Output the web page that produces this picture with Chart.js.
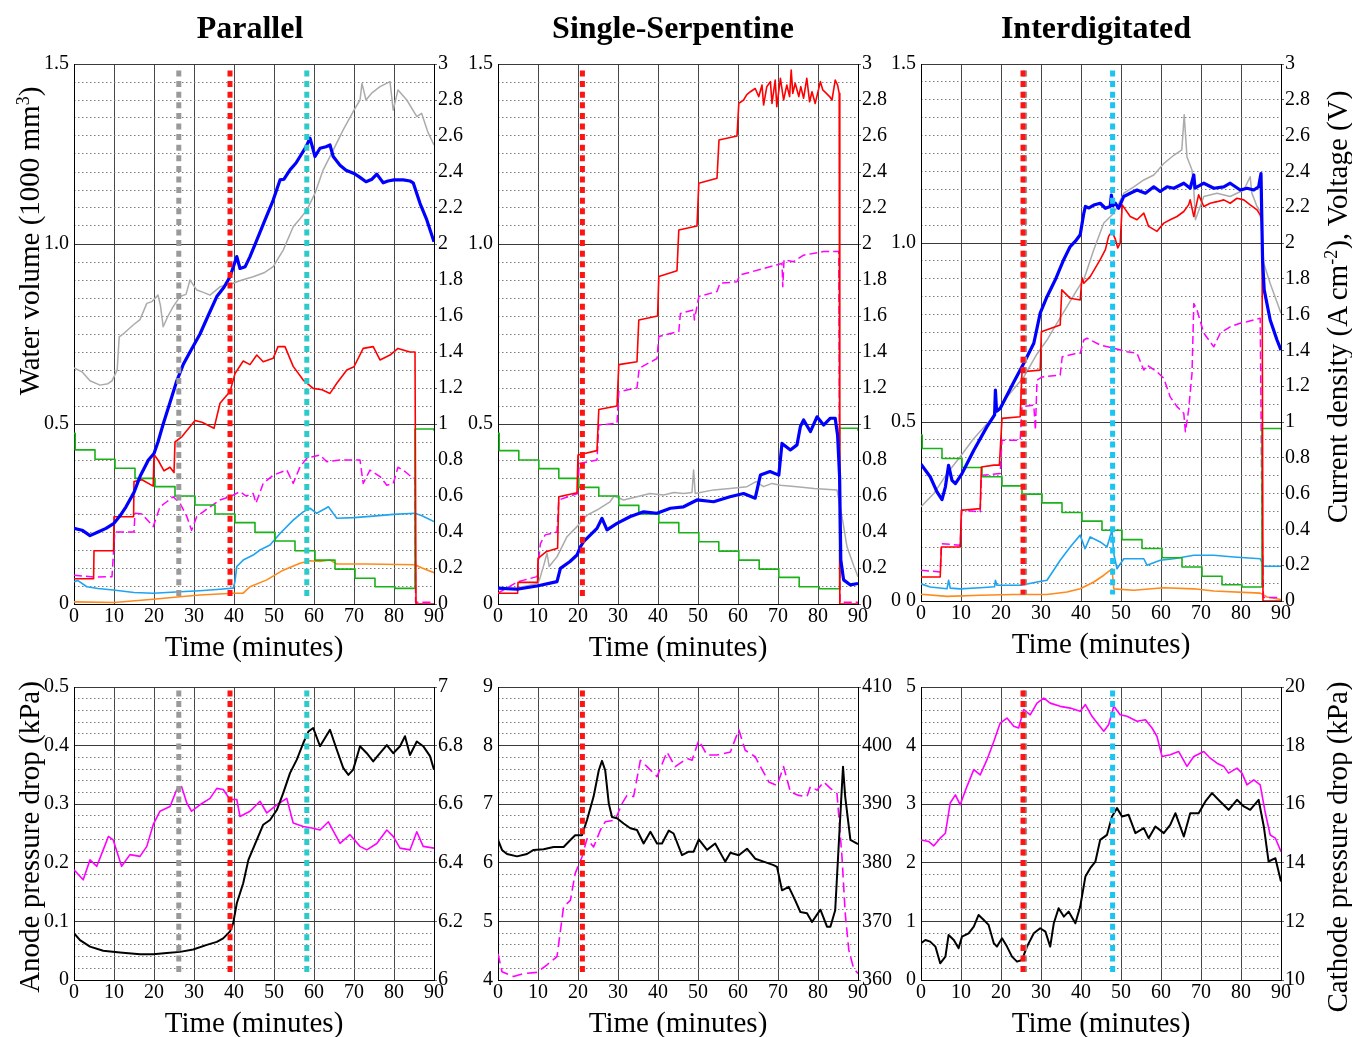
<!DOCTYPE html>
<html>
<head>
<meta charset="utf-8">
<script src="https://cdn.jsdelivr.net/npm/chart.js@4.4.1/dist/chart.umd.min.js"></script>
<style>
html, body { margin: 0; padding: 0; overflow: hidden; background: #fff; width: 1352px; height: 1037px; }
canvas { position: absolute; }
.t { position: absolute; font-family: 'Liberation Serif', 'Times New Roman', serif; color: #000; white-space: nowrap; }
.head { font-weight: bold; font-size: 32px; line-height: 32px; transform: translateX(-50%); }
.ytitle { font-size: 29px; line-height: 29px; transform: translate(-50%, -50%) rotate(-90deg); }
.ytitle sup { font-size: 0.62em; vertical-align: 0.55em; line-height: 0; }
</style>
</head>
<body>
<script>
// ---------- time series, [minutes, value] ----------
// Water-volume type traces use the left axis (1000 mm^3); current density / voltage use the right axis.

const parallelBlue = [[0,0.21],[2,0.205],[4,0.19],[6,0.2],[8,0.21],[10,0.224],[11.5,0.245],[13,0.27],[15,0.31],[16.5,0.354],[18.6,0.4],[20,0.418],[21,0.45],[22.3,0.5],[24,0.56],[25.7,0.62],[27.3,0.665],[29,0.7],[31.5,0.75],[33.5,0.8],[35.7,0.854],[37.5,0.88],[39,0.909],[40.7,0.965],[41.5,0.932],[42.8,0.937],[44,0.965],[45.7,1.011],[47.5,1.06],[49.8,1.122],[51.5,1.178],[52.5,1.18],[54,1.206],[55.5,1.225],[56.5,1.243],[58,1.27],[59,1.294],[60.25,1.243],[61.5,1.266],[63,1.27],[64,1.275],[64.8,1.243],[66.5,1.219],[68,1.205],[70,1.196],[71.5,1.185],[73,1.173],[74.5,1.18],[75.7,1.194],[77.3,1.17],[78.5,1.175],[80,1.178],[82.3,1.178],[84,1.175],[84.8,1.17],[86.5,1.113],[88.2,1.067],[90,1.006]];
const parallelGray = [[0,0.656],[2,0.645],[4,0.62],[6.5,0.608],[8.5,0.612],[9.5,0.62],[10.8,0.65],[11.3,0.742],[12.5,0.752],[14.8,0.775],[16.5,0.79],[18.2,0.835],[19.5,0.84],[21,0.858],[21.6,0.83],[22.3,0.77],[23.5,0.8],[24.8,0.826],[26.5,0.854],[28,0.86],[29,0.9],[30.7,0.872],[32.5,0.865],[34,0.858],[36.5,0.881],[39.8,0.891],[42,0.9],[44.8,0.909],[47.5,0.92],[49.8,0.937],[52.3,0.983],[54.8,1.048],[56.5,1.07],[58.2,1.094],[60.25,1.141],[62.3,1.206],[64.8,1.261],[67.3,1.317],[70,1.372],[71.5,1.4],[72,1.446],[73,1.4],[74.5,1.42],[76.5,1.437],[79,1.451],[79.8,1.372],[81,1.428],[83.2,1.4],[85.7,1.354],[86.9,1.363],[88.5,1.31],[90,1.275]];
const parallelCurrent = [[0,0.14],[4.9,0.14],[5,0.296],[9.9,0.296],[10,0.485],[14.9,0.485],[15,0.68],[17,0.69],[19.8,0.655],[20,0.831],[21,0.8],[22.5,0.74],[24,0.76],[25,0.73],[25.25,0.9],[27,0.93],[30.25,1.02],[32,1.01],[35,0.976],[36.5,1.115],[39,1.18],[40.25,1.28],[42.3,1.35],[44,1.33],[45.7,1.383],[47.3,1.346],[49.8,1.365],[51,1.43],[52.75,1.43],[54.8,1.32],[57.3,1.244],[59.8,1.198],[62,1.19],[64,1.17],[65.7,1.226],[68.2,1.3],[70,1.318],[72.3,1.42],[74.8,1.43],[76.5,1.356],[79,1.383],[81,1.42],[84,1.4],[85.25,1.4],[85.5,0],[90,0]];
const parallelVoltage = [[0,0.948],[0.3,0.856],[5.25,0.804],[10.25,0.754],[15.25,0.698],[20.25,0.652],[25.25,0.6],[30.25,0.55],[35.25,0.5],[40.25,0.452],[45.25,0.398],[50.25,0.35],[55.25,0.296],[60.25,0.244],[65.25,0.194],[70.25,0.143],[75.25,0.096],[80.25,0.087],[85.25,0.972],[90,0.962]];
const parallelMagenta = [[0,0.08],[5,0.075],[9.5,0.076],[9.8,0.13],[10.2,0.2],[12,0.2],[15,0.2],[15.25,0.252],[17,0.25],[19.8,0.215],[21.5,0.27],[23.2,0.284],[24.8,0.298],[26.5,0.28],[28.2,0.243],[29.4,0.205],[30.7,0.243],[32.3,0.256],[34,0.27],[36.5,0.289],[39,0.298],[41.5,0.312],[43,0.3],[44.8,0.307],[45.5,0.28],[47.3,0.335],[49.8,0.358],[53.2,0.372],[54.8,0.335],[56.5,0.381],[58.2,0.405],[61.5,0.414],[63.2,0.395],[66.5,0.4],[71.5,0.4],[72.3,0.335],[74,0.372],[76.5,0.354],[78.2,0.33],[79.8,0.335],[81,0.38],[82.75,0.368],[84.8,0.349],[85.2,0.349],[85.4,0.005],[90,0.005]];
const parallelCyan = [[0,0.062],[1,0.065],[3.2,0.048],[6,0.043],[9.8,0.039],[15,0.032],[19.8,0.03],[26.5,0.034],[31.5,0.037],[36.5,0.041],[39.8,0.044],[40.2,0.06],[40.7,0.104],[42.3,0.122],[44.8,0.136],[46.5,0.15],[49,0.164],[51.5,0.196],[54.8,0.233],[57.3,0.256],[59,0.266],[60.7,0.252],[63.6,0.27],[65.7,0.238],[70,0.24],[74.8,0.244],[79.8,0.249],[85.25,0.252],[87,0.245],[90,0.229]];
const parallelOrange = [[0,0.006],[10,0.004],[19.8,0.013],[26.5,0.02],[31.5,0.025],[39.8,0.03],[42.3,0.03],[44,0.048],[48.2,0.067],[52.3,0.094],[56.5,0.113],[59,0.12],[61.5,0.118],[64,0.122],[65.7,0.111],[73,0.111],[85.25,0.109],[87,0.1],[90,0.087]];

const singleBlue = [[0,0.044],[4.75,0.041],[9.75,0.05],[14.75,0.062],[15.6,0.099],[18,0.118],[19.75,0.136],[20.6,0.159],[21.4,0.173],[24.75,0.21],[26,0.238],[27.25,0.206],[29.75,0.224],[33.1,0.243],[36.4,0.256],[39.75,0.252],[43.1,0.266],[46.4,0.27],[49.75,0.289],[53.9,0.284],[58,0.298],[61.4,0.307],[64.3,0.294],[65.6,0.358],[68,0.368],[70.2,0.358],[71,0.446],[73.1,0.428],[74.75,0.442],[75.6,0.493],[76.4,0.511],[78.1,0.479],[79.75,0.52],[81.4,0.497],[83.1,0.516],[84.3,0.516],[84.9,0.469],[85.4,0.354],[85.7,0.122],[86.4,0.067],[88.1,0.053],[90,0.057]];
const singleGray = [[0,0.04],[5,0.045],[10,0.057],[10.6,0.076],[11.5,0.11],[12.25,0.141],[12.8,0.104],[14.75,0.131],[17.25,0.187],[19.75,0.215],[22.25,0.247],[24.75,0.261],[26,0.27],[28,0.284],[29,0.3],[31.4,0.289],[34.75,0.298],[38,0.307],[41.4,0.303],[44,0.31],[46.4,0.307],[48.5,0.31],[48.9,0.372],[49.3,0.307],[53.9,0.317],[58,0.321],[62.25,0.326],[64.5,0.34],[66.4,0.326],[68.5,0.335],[70.6,0.33],[74.75,0.326],[79,0.321],[84.75,0.317],[86,0.243],[87.25,0.159],[89,0.104],[90,0.076]];
const singleCurrent = [[0,0.06],[4.9,0.06],[5,0.12],[9.9,0.12],[10,0.254],[12,0.29],[14.9,0.31],[15.2,0.596],[19.75,0.618],[20,0.828],[24.75,0.852],[25.2,1.081],[29.75,1.1],[30.2,1.33],[34.75,1.346],[35.2,1.578],[39.9,1.6],[40.2,1.82],[44.75,1.852],[45.2,2.078],[49.75,2.1],[50.2,2.337],[54.75,2.365],[55.25,2.578],[59.75,2.6],[60.2,2.781],[61.4,2.8],[62.2,2.83],[63.1,2.846],[64.3,2.864],[65.2,2.819],[66,2.883],[66.4,2.772],[67.2,2.874],[68.1,2.902],[68.5,2.781],[69.3,2.911],[69.7,2.763],[70.6,2.92],[71.4,2.8],[72.2,2.883],[72.9,2.819],[73.3,2.967],[73.7,2.837],[74.3,2.893],[75.2,2.819],[75.7,2.874],[76.4,2.81],[77.2,2.92],[77.9,2.79],[78.5,2.846],[79.3,2.781],[79.9,2.837],[80.6,2.902],[81.2,2.856],[82.1,2.837],[82.9,2.819],[83.5,2.8],[84.3,2.911],[84.9,2.883],[85.3,2.837],[85.45,0],[90,0]];
const singleVoltage = [[0,0.948],[0.3,0.852],[5.2,0.8],[10.2,0.752],[15.2,0.698],[20.2,0.648],[25.2,0.6],[30.2,0.548],[35.2,0.5],[40.2,0.452],[45.2,0.396],[50.2,0.346],[55.2,0.294],[60.2,0.244],[65.3,0.194],[70.2,0.148],[75.3,0.096],[80.3,0.085],[85.4,0.976],[90,0.963]];
const singleMagenta = [[0,0.03],[5,0.062],[9.75,0.076],[10.6,0.168],[11.8,0.192],[14.75,0.2],[15.2,0.289],[19.9,0.307],[20.3,0.39],[24.75,0.4],[25.2,0.497],[29.75,0.502],[30.2,0.59],[34.75,0.6],[35.3,0.655],[39.75,0.682],[40.2,0.743],[45.2,0.757],[45.6,0.807],[48.9,0.817],[49.1,0.789],[50.2,0.854],[54.75,0.868],[55.5,0.891],[59.75,0.895],[60.5,0.914],[66.4,0.932],[71,0.946],[71.2,0.881],[71.5,0.956],[73.9,0.951],[76.4,0.969],[81.4,0.979],[85.2,0.979],[85.5,0.005],[90,0.005]];

const interBlue = [[0,0.382],[2.3,0.347],[4,0.305],[5.25,0.283],[6.1,0.319],[6.9,0.379],[7.75,0.337],[8.6,0.328],[10.25,0.356],[13.2,0.421],[16.5,0.487],[18.4,0.52],[18.6,0.589],[18.9,0.53],[19.8,0.538],[23.2,0.612],[25.7,0.664],[28.2,0.72],[29.8,0.804],[31.5,0.85],[33.6,0.898],[35.7,0.954],[37.3,0.99],[38.6,1.005],[39.8,1.023],[40.7,1.083],[41.1,1.102],[42,1.098],[43.2,1.106],[44.8,1.111],[46.1,1.097],[47.3,1.102],[47.6,1.134],[48,1.104],[48.6,1.111],[49.4,1.097],[50.7,1.13],[52.3,1.139],[54,1.148],[56.1,1.139],[58.2,1.157],[59.8,1.144],[61.5,1.157],[63.2,1.153],[65.7,1.167],[67.3,1.153],[68.2,1.19],[68.5,1.153],[70.7,1.167],[73.2,1.153],[75.7,1.157],[77.3,1.167],[79.8,1.148],[81.5,1.153],[83.2,1.148],[84.4,1.157],[85,1.194],[85.4,0.95],[85.8,0.869],[87.3,0.785],[89,0.729],[90,0.701]];
const interGray = [[0,0.263],[3.2,0.3],[6.5,0.356],[9.8,0.403],[13.2,0.454],[17.3,0.505],[21.5,0.57],[25.7,0.626],[29,0.69],[31.5,0.729],[34,0.776],[36.5,0.822],[39,0.869],[40.7,0.898],[43.2,0.981],[45.7,1.056],[48.2,1.083],[50.7,1.139],[53.2,1.157],[55.7,1.176],[58.2,1.19],[60.7,1.222],[63.2,1.245],[65.2,1.26],[65.8,1.358],[66.5,1.24],[67.75,1.204],[68.2,1.15],[68.6,1.065],[70.7,1.13],[74,1.139],[77.3,1.13],[80.7,1.148],[82.3,1.185],[82.7,1.14],[84,1.102],[84.8,1.088],[85.7,0.943],[87.3,0.887],[90,0.804]];
const interCurrent = [[0,0.134],[4.8,0.134],[5.1,0.302],[9.8,0.302],[10.1,0.507],[14.8,0.516],[15.1,0.749],[18.2,0.759],[19.6,0.759],[20.25,1.02],[24.8,1.029],[25.25,1.281],[29.8,1.29],[30.1,1.504],[34.8,1.542],[35.2,1.738],[37.3,1.691],[39.8,1.682],[40.25,1.806],[40.7,1.775],[42.3,1.812],[44.8,1.907],[46.1,1.963],[46.9,2.037],[47.75,2.065],[48.6,2.02],[49.2,1.972],[49.8,2.0],[50.3,2.213],[52.3,2.148],[54,2.13],[55.7,2.167],[56.9,2.093],[59,2.065],[60.7,2.111],[62.3,2.13],[64,2.148],[65.7,2.176],[66.9,2.213],[67.3,2.241],[68.2,2.148],[69.4,2.269],[70.7,2.204],[72.3,2.222],[74,2.231],[75.7,2.241],[77.3,2.222],[79,2.25],[80.7,2.241],[82.3,2.213],[84,2.185],[84.8,2.157],[85.25,2.12],[85.5,0],[90,0]];
const interVoltage = [[0,0.927],[0.3,0.852],[5.25,0.796],[10.25,0.746],[15.25,0.694],[20.25,0.643],[25.25,0.597],[30.25,0.548],[35.25,0.494],[40.25,0.446],[45.25,0.395],[50.25,0.343],[55.25,0.293],[60.25,0.242],[65.25,0.19],[70.25,0.138],[75.25,0.091],[80.25,0.078],[85.25,0.964],[90,0.958]];
const interMagenta = [[0,0.086],[4.8,0.081],[5.1,0.16],[9.8,0.156],[10.2,0.254],[14.8,0.249],[15.1,0.351],[19.8,0.356],[20.25,0.449],[24.8,0.449],[25.25,0.543],[28.2,0.547],[28.6,0.477],[29,0.617],[30.25,0.626],[34.8,0.631],[35.3,0.682],[38.2,0.69],[39.8,0.692],[40.7,0.729],[41.5,0.734],[44.8,0.715],[48.2,0.706],[51.5,0.696],[54,0.692],[55.7,0.645],[56.5,0.659],[59,0.64],[60.7,0.622],[62.3,0.57],[64,0.543],[65.7,0.524],[66.1,0.473],[66.9,0.533],[67.75,0.636],[68.2,0.831],[69,0.813],[70.7,0.748],[73.2,0.71],[74.8,0.748],[77.3,0.766],[79.8,0.776],[81.5,0.78],[84.8,0.79],[85.25,0.22],[85.6,0.01],[90,0.01]];
const interCyan = [[0,0.048],[2.3,0.039],[6.5,0.034],[6.9,0.058],[7.3,0.036],[9.8,0.034],[14.8,0.037],[18.4,0.04],[18.6,0.058],[19,0.044],[25,0.044],[29,0.053],[31.5,0.058],[34.8,0.114],[37.3,0.151],[39.8,0.184],[41,0.146],[42.3,0.179],[44.8,0.165],[46.5,0.151],[47.75,0.198],[48.2,0.132],[49,0.09],[50.7,0.118],[53.2,0.118],[55.7,0.118],[56.5,0.1],[59.8,0.114],[63.2,0.118],[68.2,0.128],[73.2,0.128],[78.2,0.123],[84.8,0.118],[85.7,0.097],[90,0.097]];
const interOrange = [[0,0.019],[6.5,0.013],[14.8,0.016],[23.2,0.018],[31.5,0.018],[36.5,0.025],[39.8,0.034],[43.2,0.053],[45.7,0.072],[47.75,0.09],[48.2,0.034],[53.2,0.03],[60.7,0.037],[68.2,0.034],[73.2,0.028],[84.8,0.022],[86.5,0.011],[90,0.004]];

// pressure drops: anode on the left axis, cathode on the right axis (kPa)
const parallelAnode = [[0,0.08],[1.5,0.068],[4,0.057],[7.3,0.05],[11.5,0.047],[16.5,0.044],[19.8,0.044],[23.2,0.046],[26.5,0.048],[29.8,0.052],[33.2,0.06],[35.7,0.065],[37.3,0.071],[39,0.083],[39.8,0.097],[40.7,0.131],[42.3,0.165],[43.6,0.205],[45.7,0.239],[47.3,0.265],[49,0.273],[50.7,0.29],[52.3,0.319],[54,0.353],[55.7,0.376],[57.3,0.404],[58.6,0.424],[59.8,0.43],[61.5,0.399],[62.75,0.413],[64,0.427],[65.7,0.393],[67.3,0.362],[68.6,0.35],[69.8,0.359],[71.5,0.399],[73.2,0.387],[74.8,0.373],[76.5,0.387],[78.2,0.401],[79.8,0.387],[81.5,0.399],[82.75,0.416],[84,0.384],[85.7,0.407],[87.3,0.399],[89,0.382],[90,0.359]];
const parallelCathode = [[0,6.376],[2.3,6.342],[4,6.41],[5.7,6.388],[7.3,6.444],[8.6,6.49],[9.8,6.478],[11.9,6.388],[14,6.428],[16.5,6.422],[18.2,6.456],[19.8,6.53],[21.5,6.576],[24,6.592],[25.7,6.65],[26.9,6.66],[28.2,6.604],[29.4,6.576],[31.5,6.598],[34,6.62],[35.7,6.654],[37.3,6.65],[39,6.616],[40.7,6.616],[41.5,6.558],[44,6.576],[46.5,6.61],[48.2,6.57],[50.7,6.598],[53.2,6.62],[54.8,6.536],[57.3,6.524],[59.8,6.518],[61.5,6.512],[63.6,6.54],[66.5,6.466],[69,6.496],[71.5,6.456],[73.2,6.444],[75.7,6.466],[78.2,6.512],[79.8,6.49],[81.5,6.45],[84,6.444],[85.7,6.506],[87.3,6.456],[90,6.45]];
const singleAnode = [[0,6.39],[1,6.22],[2.25,6.15],[4.75,6.11],[7.25,6.15],[8.9,6.22],[11.4,6.23],[13.9,6.27],[16.4,6.27],[18.1,6.39],[19.3,6.47],[21,6.47],[22.25,6.73],[23.9,7.13],[25.2,7.58],[26,7.74],[26.8,7.58],[27.7,7.01],[28.5,6.78],[29.75,6.76],[31.4,6.67],[33.1,6.59],[34.75,6.56],[36.4,6.33],[38.1,6.53],[39.75,6.33],[41,6.33],[42.7,6.55],[43.9,6.5],[46,6.13],[47.7,6.19],[48.9,6.19],[50.2,6.4],[52.25,6.22],[54.3,6.33],[56.8,6.02],[58.1,6.17],[60.2,6.13],[62.25,6.24],[64.3,6.07],[66.4,6.02],[68.9,5.96],[69.75,5.93],[71,5.53],[72.7,5.59],[74.3,5.36],[75.6,5.16],[77.25,5.14],[78.5,4.99],[80.6,5.2],[82.25,4.91],[83.1,4.91],[84.3,5.19],[85.2,6.33],[86.25,7.64],[86.8,7.13],[88.1,6.39],[90,6.32]];
const singleCathode = [[0,364.5],[1,361.4],[3.9,360.6],[6.4,361.1],[9.75,361.3],[12.25,362.6],[14.75,364],[16.4,372.5],[18.1,373.6],[19.3,378.2],[21,381],[22.25,384.1],[23.9,382.7],[25.6,385.6],[26.8,387],[29.3,387.3],[31,390.1],[32.25,391.5],[33.9,391.3],[35.6,397.5],[37.25,396.4],[39.75,394.7],[42.25,398.9],[44.3,396.4],[47.25,397.8],[48.5,397.5],[50.2,400.9],[52.25,398.4],[54.75,398.4],[58.1,398.9],[60.2,402.7],[61.8,399.2],[64.3,398.1],[65.6,396.4],[67.7,393.8],[69.75,393.2],[71.4,396.4],[73.1,392.1],[75.2,391.5],[77.25,391.3],[78.1,393],[79.75,392.4],[81.4,393.8],[83.1,392.7],[84.75,391.8],[86,381],[86.8,371.4],[87.7,365.1],[88.9,362],[90,361.1]];
const interAnode = [[0,0.626],[1.1,0.683],[2.3,0.655],[3.6,0.57],[4.8,0.285],[6.1,0.399],[6.9,0.769],[8.2,0.683],[9.4,0.541],[10.25,0.74],[11.9,0.797],[13.2,0.911],[14.4,1.11],[15.7,1.025],[16.9,0.94],[18.2,0.626],[19,0.57],[20.25,0.712],[21.5,0.57],[22.75,0.399],[24,0.313],[25.25,0.342],[26.5,0.57],[28.2,0.797],[29.8,0.883],[31.1,0.826],[32.3,0.57],[33.2,0.968],[34.4,1.224],[35.7,1.082],[36.9,1.167],[38.6,0.968],[39.8,1.253],[41.1,1.765],[42.3,1.908],[43.6,2.022],[44.8,2.392],[46.5,2.477],[47.75,2.79],[49,2.933],[50.25,2.79],[51.9,2.819],[53.6,2.506],[55.7,2.591],[56.9,2.42],[58.6,2.62],[60.7,2.506],[62.3,2.648],[63.6,2.847],[65.7,2.449],[67.3,2.847],[69.4,2.847],[71.1,3.047],[72.75,3.189],[74.8,3.047],[76.9,2.904],[79,3.075],[80.7,2.961],[82.3,2.904],[84.4,3.075],[85.7,2.62],[86.9,2.022],[88.6,2.079],[90,1.68]];
const interCathode = [[0,14.78],[1.9,14.73],[3.2,14.58],[4.8,14.84],[6.1,15.01],[7.3,16.04],[8.6,16.32],[9.8,15.98],[11.5,16.61],[13.2,17.18],[14.8,17.0],[16.5,17.52],[18.2,18.14],[19.8,18.77],[21.5,18.94],[23.2,18.66],[24.4,18.6],[25.7,19.23],[27.3,19.05],[29,19.45],[30.7,19.62],[32.3,19.45],[34.8,19.34],[37.3,19.28],[39.8,19.17],[41.1,19.4],[42.75,19.0],[44.4,18.71],[45.7,18.49],[46.9,18.71],[48.2,19.34],[49.8,19.05],[51.5,19.0],[54,18.83],[56.1,18.88],[57.75,18.6],[59,18.31],[60.25,17.63],[62.3,17.69],[64.4,17.8],[66.5,17.29],[68.2,17.63],[70.7,17.8],[72.3,17.57],[74,17.4],[75.7,17.29],[76.9,17.06],[79,17.23],[80.25,17.06],[81.5,16.66],[83.2,16.83],[84.8,16.66],[86.1,15.69],[87.3,14.95],[88.6,14.84],[90,14.38]];

// event times (minutes) marked by thick dotted verticals
const parallelEvents = [26.2, 39.0, 58.2];
const singleEvents = [21.1];
const interEvents = [25.5, 25.9, 47.9];

// axis tick labels
const timeTicks = [0, 10, 20, 30, 40, 50, 60, 70, 80, 90];
const waterTicks = [0, 0.5, 1.0, 1.5];
const currentTicks = [0, 0.2, 0.4, 0.6, 0.8, 1, 1.2, 1.4, 1.6, 1.8, 2, 2.2, 2.4, 2.6, 2.8, 3];

// ---------- drawing ----------
const FONT = "'Liberation Serif', 'Times New Roman', serif";
const C = {
  blue: '#0000ff', gray: '#ababab', red: '#ff0000', green: '#19b219',
  magenta: '#ff00ff', cyan: '#1ea4f0', orange: '#ff8a1a', black: '#000000',
  evGray: '#9a9a9a', evRed: '#ff1414', evTeal: '#2ecaca', evSky: '#1cc4f2'
};
const trimNum = v => String(+v.toFixed(3));
const near = (v, step) => Math.abs(v / step - Math.round(v / step)) < 1e-6;

function makePanel(p) {
  const LW = 60, RW = 50, XH = 66;
  const w = LW + (p.r - p.l) + RW;
  const h = p.padTop + (p.b - p.t) + XH;
  const cv = document.createElement('canvas');
  cv.width = w; cv.height = h;
  cv.style.left = (p.l - LW) + 'px';
  cv.style.top = (p.t - p.padTop) + 'px';
  cv.style.width = w + 'px'; cv.style.height = h + 'px';
  document.body.appendChild(cv);

  const datasets = [];
  const inset = (p.left.max - p.left.min) * 0.012;
  p.events.forEach((t, i) => {
    datasets.push({
      data: [{ x: t, y: p.left.max - inset }, { x: t, y: p.left.min + inset }],
      yAxisID: 'y', borderColor: p.eventColors[i], borderWidth: 5,
      borderDash: [6, 4.6], borderCapStyle: 'butt', pointRadius: 0
    });
  });
  p.series.forEach(s => {
    datasets.push({
      data: s.data.map(d => ({ x: d[0], y: d[1] })),
      yAxisID: s.axis, borderColor: s.color, borderWidth: s.width,
      borderDash: s.dash || [], stepped: s.stepped || false,
      pointRadius: 0, tension: 0, borderJoinStyle: 'round'
    });
  });
  datasets.forEach((d, i) => { d.order = i; });

  const tickFont = { family: FONT, size: 20 };
  new Chart(cv, {
    type: 'line',
    data: { datasets },
    options: {
      responsive: false, animation: false, devicePixelRatio: 1, events: [],
      layout: { padding: { top: p.padTop, left: 0, right: 0, bottom: 0 } },
      plugins: { legend: { display: false }, tooltip: { enabled: false } },
      scales: {
        x: {
          type: 'linear', position: 'bottom', min: 0, max: 90,
          afterBuildTicks: s => { s.ticks = timeTicks.map(v => ({ value: v })); },
          ticks: { font: tickFont, color: '#000', padding: 1, maxRotation: 0, autoSkip: false, callback: v => String(v) },
          grid: { color: '#474747', lineWidth: 1, drawTicks: false },
          border: { color: '#000', width: 1 },
          title: { display: true, text: 'Time (minutes)', color: '#000', font: { family: FONT, size: 29 }, padding: { top: 0, bottom: 4 } },
          afterFit: s => { s.height = XH; }
        },
        y: {
          type: 'linear', position: 'left', min: p.left.min, max: p.left.max,
          afterBuildTicks: p.left.ticks ? (s => { s.ticks = p.left.ticks.map(v => ({ value: v })); }) : undefined,
          ticks: { stepSize: p.left.step, font: tickFont, color: '#000', padding: 5, autoSkip: false, callback: p.left.fmt },
          grid: { color: '#3a3a3a', lineWidth: 1, drawTicks: false },
          border: { color: '#000', width: 1 },
          afterFit: s => { s.width = LW; }
        },
        yMinor: {
          type: 'linear', position: 'left', min: p.left.min, max: p.left.max,
          ticks: { display: false, stepSize: p.left.minor, autoSkip: false },
          grid: {
            drawTicks: false, lineWidth: 1,
            color: ctx => near(ctx.tick.value - p.left.min, p.left.step) ? 'rgba(0,0,0,0)' : '#7c7c7c'
          },
          border: { display: false, dash: [1.5, 2.5] },
          afterFit: s => { s.width = 0; }
        },
        y2: {
          type: 'linear', position: 'right', min: p.right.min, max: p.right.max,
          afterBuildTicks: p.right.ticks ? (s => { s.ticks = p.right.ticks.map(v => ({ value: v })); }) : undefined,
          ticks: { stepSize: p.right.step, font: tickFont, color: '#000', padding: 1, autoSkip: false, callback: v => trimNum(v) },
          grid: { drawOnChartArea: false, drawTicks: true, tickLength: 3, tickColor: '#666', tickWidth: 1 },
          border: { color: '#000', width: 1 },
          afterFit: s => { s.width = RW; }
        }
      }
    }
  });
}

const waterFmt = v => (Math.abs(v) < 1e-9 ? '0' : v.toFixed(1));
const waterFmtInter = v => (Math.abs(v) < 1e-9 ? '0 0' : v.toFixed(1));
const topLeft = fmt => ({ min: 0, max: 1.5, step: 0.5, minor: 0.05, ticks: waterTicks, fmt });
const topRight = { min: 0, max: 3, step: 0.2, ticks: currentTicks };

function topSeries(blue, gray, current, voltage, magenta, cyan, orange) {
  const list = [
    { data: blue, axis: 'y', color: C.blue, width: 3.2 },
    { data: current, axis: 'y2', color: C.red, width: 1.6 },
    { data: voltage, axis: 'y2', color: C.green, width: 1.6, stepped: true },
    { data: magenta, axis: 'y', color: C.magenta, width: 1.5, dash: [8, 4] }
  ];
  if (cyan) list.push({ data: cyan, axis: 'y', color: C.cyan, width: 1.6 });
  if (orange) list.push({ data: orange, axis: 'y', color: C.orange, width: 1.6 });
  list.push({ data: gray, axis: 'y', color: C.gray, width: 1.5 });
  return list;
}

makePanel({
  l: 74, r: 434, t: 64, b: 604, padTop: 20,
  left: topLeft(waterFmt), right: topRight,
  events: parallelEvents, eventColors: [C.evGray, C.evRed, C.evTeal],
  series: topSeries(parallelBlue, parallelGray, parallelCurrent, parallelVoltage, parallelMagenta, parallelCyan, parallelOrange)
});
makePanel({
  l: 498, r: 858, t: 64, b: 604, padTop: 20,
  left: topLeft(waterFmt), right: topRight,
  events: singleEvents, eventColors: [C.evRed],
  series: topSeries(singleBlue, singleGray, singleCurrent, singleVoltage, singleMagenta, null, null)
});
makePanel({
  l: 921, r: 1281, t: 64, b: 601, padTop: 20,
  left: topLeft(waterFmtInter), right: topRight,
  events: interEvents, eventColors: [C.evRed, C.evGray, C.evSky],
  series: topSeries(interBlue, interGray, interCurrent, interVoltage, interMagenta, interCyan, interOrange)
});

makePanel({
  l: 74, r: 434, t: 687, b: 980, padTop: 17,
  left: { min: 0, max: 0.5, step: 0.1, minor: 0.02, fmt: trimNum },
  right: { min: 6, max: 7, step: 0.2 },
  events: parallelEvents, eventColors: [C.evGray, C.evRed, C.evTeal],
  series: [
    { data: parallelAnode, axis: 'y', color: C.black, width: 2 },
    { data: parallelCathode, axis: 'y2', color: C.magenta, width: 1.6 }
  ]
});
makePanel({
  l: 498, r: 858, t: 687, b: 980, padTop: 17,
  left: { min: 4, max: 9, step: 1, minor: 0.2, fmt: trimNum },
  right: { min: 360, max: 410, step: 10 },
  events: singleEvents, eventColors: [C.evRed],
  series: [
    { data: singleAnode, axis: 'y', color: C.black, width: 2 },
    { data: singleCathode, axis: 'y2', color: C.magenta, width: 1.6, dash: [10, 5] }
  ]
});
makePanel({
  l: 921, r: 1281, t: 687, b: 980, padTop: 17,
  left: { min: 0, max: 5, step: 1, minor: 0.2, fmt: trimNum },
  right: { min: 10, max: 20, step: 2 },
  events: interEvents, eventColors: [C.evRed, C.evGray, C.evSky],
  series: [
    { data: interAnode, axis: 'y', color: C.black, width: 2 },
    { data: interCathode, axis: 'y2', color: C.magenta, width: 1.6 }
  ]
});
</script>
<div class="t head" style="left:250px;top:11px">Parallel</div>
<div class="t head" style="left:673px;top:11px">Single-Serpentine</div>
<div class="t head" style="left:1096px;top:11px">Interdigitated</div>
<div class="t ytitle" style="left:29px;top:241px">Water volume (1000 mm<sup>3</sup>)</div>
<div class="t ytitle" style="left:29px;top:837px">Anode pressure drop (kPa)</div>
<div class="t ytitle" style="left:1337px;top:307px">Current density (A cm<sup>-2</sup>), Voltage (V)</div>
<div class="t ytitle" style="left:1337px;top:847px">Cathode pressure drop (kPa)</div>
</body>
</html>
